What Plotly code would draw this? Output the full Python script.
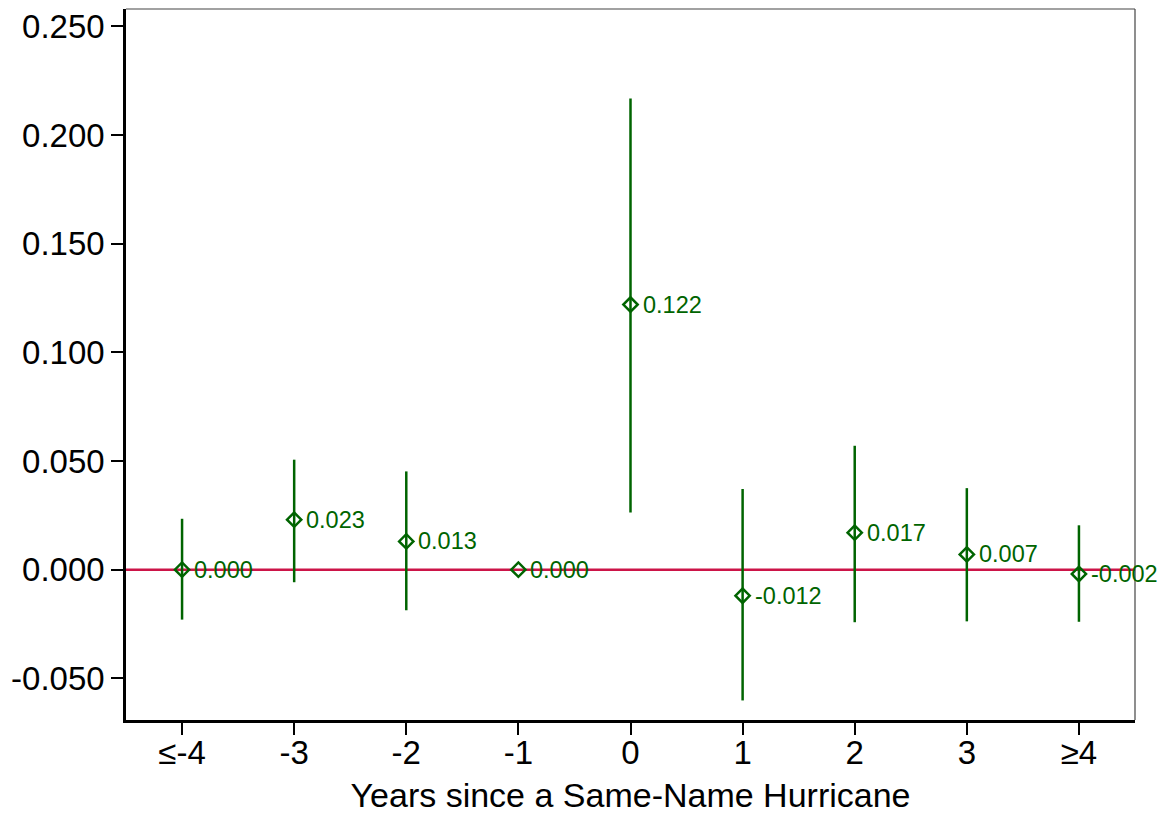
import plotly.graph_objects as go

# Data
categories = ["≤-4", "-3", "-2", "-1", "0", "1", "2", "3", "≥4"]
coef = [0.000, 0.023, 0.013, 0.000, 0.122, -0.012, 0.017, 0.007, -0.002]
ci_low = [-0.0230, -0.0058, -0.0187, 0.000, 0.0263, -0.0602, -0.0242, -0.0238, -0.0240]
ci_high = [0.0234, 0.0506, 0.0452, 0.000, 0.2168, 0.0371, 0.0570, 0.0375, 0.0204]
coef_labels = ["0.000", "0.023", "0.013", "0.000", "0.122", "-0.012", "0.017", "0.007", "-0.002"]
y_ticks = [-0.05, 0.0, 0.05, 0.10, 0.15, 0.20, 0.25]
y_tick_labels = ["-0.050", "0.000", "0.050", "0.100", "0.150", "0.200", "0.250"]

GREEN = "#006400"
RED = "#cc1448"
FONT = "Liberation Sans, Arial, sans-serif"

xpos = list(range(len(categories)))
err_plus = [h - c for h, c in zip(ci_high, coef)]
err_minus = [c - l for c, l in zip(coef, ci_low)]

fig = go.Figure()

# zero reference line
fig.add_shape(type="line", xref="paper", yref="y", x0=0, x1=1, y0=0, y1=0,
              line=dict(color=RED, width=2.5), layer="below")

fig.add_trace(go.Scatter(
    x=xpos, y=coef,
    mode="markers",
    marker=dict(symbol="diamond-open", size=11, color=GREEN,
                line=dict(width=2.5, color=GREEN)),
    error_y=dict(type="data", symmetric=False, array=err_plus, arrayminus=err_minus,
                 color=GREEN, thickness=2.5, width=0),
    showlegend=False,
))

for xv, yv, lab in zip(xpos, coef, coef_labels):
    fig.add_annotation(x=xv, y=yv, text=lab, showarrow=False,
                       xanchor="left", yanchor="middle", xshift=10,
                       font=dict(family=FONT, size=23.5, color=GREEN))

# thin top/right frame
fig.add_shape(type="line", xref="paper", yref="paper", x0=0, x1=1, y0=1, y1=1,
              line=dict(color="#444444", width=1.2))
fig.add_shape(type="line", xref="paper", yref="paper", x0=1, x1=1, y0=0, y1=1,
              line=dict(color="#444444", width=1.2))

fig.update_layout(
    width=1174, height=822,
    margin=dict(l=118, r=47, t=1, b=110),
    paper_bgcolor="white", plot_bgcolor="white",
    font=dict(family=FONT, color="black"),
)
fig.update_xaxes(
    range=[-0.5, 8.5], automargin=False,
    tickvals=xpos, ticktext=categories,
    tickfont=dict(family=FONT, size=33, color="black"),
    ticks="outside", ticklen=12, tickwidth=2, tickcolor="black",
    ticklabelstandoff=-10, ticklabeloverflow="allow",
    showline=True, linecolor="black", linewidth=2.5,
    showgrid=False, zeroline=False,
    title=dict(text="Years since a Same-Name Hurricane",
               font=dict(family=FONT, size=34, color="black"), standoff=13),
)
fig.update_yaxes(
    range=[-0.0692, 0.2580], automargin=False,
    tickvals=y_ticks, ticktext=y_tick_labels,
    tickfont=dict(family=FONT, size=33, color="black"),
    ticks="outside", ticklen=12, tickwidth=2, tickcolor="black",
    ticklabeloverflow="allow",
    showline=True, linecolor="black", linewidth=2.5,
    showgrid=False, zeroline=False,
)

fig.write_html("out.html")
